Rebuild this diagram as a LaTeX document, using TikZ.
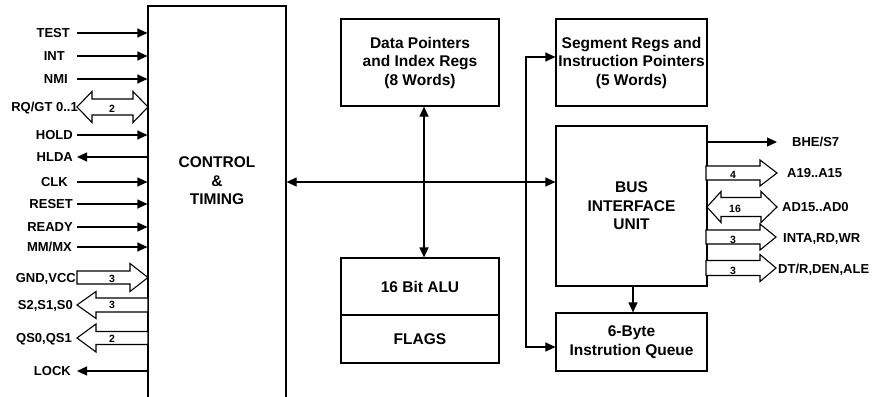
\documentclass[tikz,border=0pt]{standalone}
\usepackage{fontspec}
\setmainfont{Liberation Sans}
\usetikzlibrary{arrows.meta}
\newcommand\boxfont{\fontsize{15.5}{18.5}\selectfont\bfseries}
\newcommand\sigfont{\fontsize{13}{15}\selectfont\bfseries}
\newcommand\numfont{\fontsize{10.5}{12}\selectfont\bfseries}
% wide bus arrow: tail x, head-base x, tip x, y, half body, half head
\newcommand\busarrow[6]{%
  \draw[fat] ({#1},{#4-#5}) -- ({#2},{#4-#5}) -- ({#2},{#4-#6}) -- ({#3},{#4})
    -- ({#2},{#4+#6}) -- ({#2},{#4+#5}) -- ({#1},{#4+#5}) -- cycle;}
% two-way bus arrow: left tip, left head-base, right head-base, right tip, y, half body, half head
\newcommand\busdouble[7]{%
  \draw[fat] ({#1},{#5}) -- ({#2},{#5-#7}) -- ({#2},{#5-#6}) -- ({#3},{#5-#6})
    -- ({#3},{#5-#7}) -- ({#4},{#5}) -- ({#3},{#5+#7}) -- ({#3},{#5+#6})
    -- ({#2},{#5+#6}) -- ({#2},{#5+#7}) -- cycle;}
\begin{document}
\begin{tikzpicture}[x=1pt,y=-1pt,
  box/.style={draw, line width=1.2pt, inner sep=0pt, align=center, font=\boxfont},
  arr/.style={line width=1.2pt, -{Triangle[length=10pt,width=9pt]}},
  dbl/.style={line width=1.2pt, {Triangle[length=10pt,width=9pt]}-{Triangle[length=10pt,width=9pt]}},
  fat/.style={draw, line width=1.1pt, fill=white, line join=miter},
  sig/.style={font=\sigfont, inner sep=0pt, text height=9.3pt, text depth=0pt},
  cnt/.style={font=\numfont, inner sep=0pt, text height=7.5pt, text depth=0pt},
]
\useasboundingbox (0,0) rectangle (877,396);
\clip (0,0) rectangle (877,396);

% blocks
\node[box, minimum width=138pt, minimum height=396pt] (ctl) at (217,204) {};
\node[font=\boxfont, align=center, inner sep=0pt] (ctltext) at (217,181) {CONTROL\\\&\\TIMING};
\node[box, minimum width=158pt, minimum height=87pt] (dp) at (420,62.5)
  {Data Pointers\\and Index Regs\\(8 Words)};
\node[box, minimum width=158pt, minimum height=57pt] (alu) at (420,286.5) {16 Bit ALU};
\node[box, minimum width=158pt, minimum height=48pt] (flags) at (420,339) {FLAGS};
\node[box, minimum width=151pt, minimum height=87pt] (seg) at (631.5,62.5)
  {Segment Regs and\\Instruction Pointers\\(5 Words)};
\node[box, minimum width=151pt, minimum height=160pt] (biu) at (631.5,206)
  {BUS\\INTERFACE\\UNIT};
\node[box, minimum width=151pt, minimum height=58pt] (q) at (631.5,342)
  {6-Byte\\Instrution Queue};

% internal buses
\coordinate (hb) at (526,182);
\coordinate (vt) at (526,57);
\coordinate (vb) at (526,347);
\draw[dbl] (hb -| ctl.east) -- (hb -| biu.west);
\draw[dbl] ([xshift=4pt]dp.south) -- ([xshift=4pt]alu.north);
\draw[dbl] (vt -| seg.west) -- (vt) -- (vb) -- (vb -| q.west);
\draw[arr] ([xshift=1.5pt]biu.south) -- ([xshift=1.5pt]q.north);

% single control lines into the control unit
\foreach \n/\y/\e/\t in {test/33/70/TEST, int/56/65/INT, nmi/79/68/NMI, hold/135/73/HOLD,
    clk/182/68/CLK, reset/204/73/RESET, ready/227/73/READY, mmmx/247/72/{MM/MX}}{
  \coordinate (\n) at (77,\y);
  \node[sig, anchor=east] (\n lbl) at (\e,\y) {\t};
  \draw[arr] (\n) -- (\n -| ctl.west);
}
% single lines out of the control unit
\foreach \n/\y/\e/\t in {hlda/157/73/HLDA, lock/371/71/LOCK}{
  \coordinate (\n) at (77,\y);
  \node[sig, anchor=east] (\n lbl) at (\e,\y) {\t};
  \draw[arr] (\n -| ctl.west) -- (\n);
}

% wide buses on the control unit
\busdouble{77}{92}{133}{148}{107}{8}{15.5}
\node[sig, anchor=east] (rqlbl) at (78,107) {RQ/GT 0..1};
\node[cnt] (rqn) at (112,109) {2};
\busarrow{77}{130}{148}{277.5}{6.5}{14}
\node[sig, anchor=east] (pwrlbl) at (76,277.5) {GND,VCC};
\node[cnt] (pwrn) at (112,279) {3};
\busarrow{148}{96}{77}{305}{7}{13.5}
\node[sig, anchor=east] (stlbl) at (73,305) {S2,S1,S0};
\node[cnt] (stn) at (112,305) {3};
\busarrow{148}{96}{77}{338}{6.5}{14}
\node[sig, anchor=east] (qslbl) at (72,338) {QS0,QS1};
\node[cnt] (qsn) at (112,339) {2};

% bus interface outputs
\coordinate (bhe) at (777,142);
\draw[arr] (bhe -| biu.east) -- (bhe);
\node[sig, anchor=west] (bhelbl) at (792,142) {BHE/S7};
\busarrow{706}{760}{777}{173}{7}{13}
\node[sig, anchor=west] (albl) at (787,173) {A19..A15};
\node[cnt] (an) at (733,175) {4};
\busdouble{707}{721}{761}{777}{207}{9.5}{15.5}
\node[sig, anchor=west] (adlbl) at (782,207) {AD15..AD0};
\node[cnt] (adn) at (735,209) {16};
\busarrow{706}{760}{776}{237}{7}{13}
\node[sig, anchor=west] (intalbl) at (783,238) {INTA,RD,WR};
\node[cnt] (intan) at (733,239.5) {3};
\busarrow{706}{760}{776}{268}{7.5}{13.5}
\node[sig, anchor=west] (dtlbl) at (778,269) {DT/R,DEN,ALE};
\node[cnt] (dtn) at (733,270.5) {3};
\end{tikzpicture}
\end{document}
